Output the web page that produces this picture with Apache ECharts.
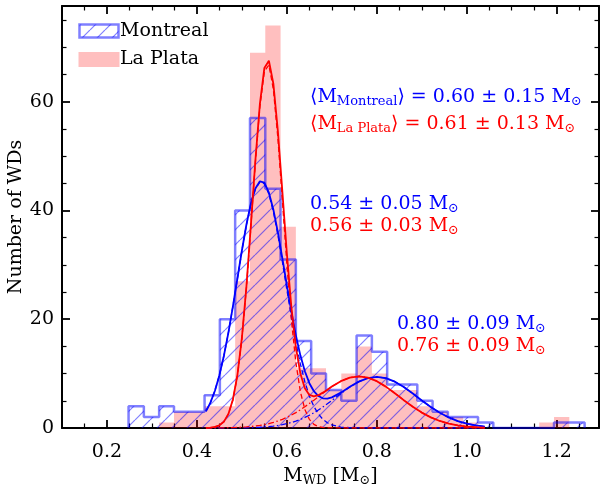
<!DOCTYPE html>
<html><head><meta charset="utf-8">
<script src="https://cdn.jsdelivr.net/npm/echarts@6/dist/echarts.min.js"></script>
<style>html,body{margin:0;padding:0;background:#fff}#c{width:601px;height:487px}</style>
</head><body><div id="c"></div>
<script>
// ---- data ----
const binEdges = [0.248,0.282,0.316,0.349,0.383,0.417,0.451,0.485,0.518,0.552,0.586,0.620,0.654,0.687,0.721,0.755,0.789,0.823,0.856,0.890,0.924,0.958,0.992,1.025,1.059,1.093,1.127,1.161,1.194,1.228,1.262];
const montrealCounts = [4,2,4,3,3,6,20,40,57,44,31,16,10,7,5,17,14,8,8,5,3,2,2,1,0,0,0,0,1,1];
const laPlataCounts  = [0,0,1,3,3,4,4,27,69,74,37,11,11,7,10,15,10,7,7,4,3,2,1,0,0,0,0,1,2,0];

const curveX = [0.42,0.43,0.44,0.45,0.46,0.47,0.48,0.49,0.50,0.51,0.52,0.53,0.54,0.55,0.56,0.57,0.58,0.59,0.60,0.61,0.62,0.63,0.64,0.65,0.66,0.67,0.68,0.69,0.70,0.72,0.74,0.76,0.78,0.80,0.82,0.84,0.86,0.88,0.90,0.92,0.94,0.96,0.98,1.00,1.02,1.04];
const montrealFit1 = [3.07,4.67,6.86,9.72,13.29,17.54,22.35,27.47,32.60,37.32,41.23,43.96,45.23,44.91,43.03,39.79,35.51,30.57,25.40,20.38,15.77,11.78,8.49,5.90,3.96,2.57,1.60,0.97,0.56,0.17,0.05,0.01,0,0,0,0,0,0,0,0,0,0,0,0,0,0];
const montrealFit2 = [0,0,0,0,0.01,0.01,0.02,0.02,0.04,0.05,0.07,0.10,0.14,0.20,0.27,0.36,0.47,0.62,0.80,1.01,1.27,1.58,1.94,2.34,2.80,3.31,3.86,4.45,5.07,6.33,7.53,8.52,9.17,9.40,9.17,8.52,7.53,6.33,5.07,3.86,2.80,1.94,1.27,0.80,0.47,0.27];
const montrealFitSum = [3.07,4.67,6.86,9.72,13.30,17.55,22.37,27.49,32.64,37.37,41.30,44.06,45.37,45.11,43.30,40.15,35.98,31.19,26.20,21.39,17.04,13.36,10.43,8.24,6.76,5.88,5.46,5.42,5.63,6.50,7.58,8.53,9.17,9.40,9.17,8.52,7.53,6.33,5.07,3.86,2.80,1.94,1.27,0.80,0.47,0.27];
const laPlataFit1 = [0.02,0.06,0.18,0.47,1.14,2.54,5.16,9.61,16.44,25.77,37.06,48.88,59.13,65.59,66.74,62.28,53.30,41.83,30.12,19.88,12.04,6.68,3.40,1.59,0.68,0.27,0.10,0.03,0.01,0,0,0,0,0,0,0,0,0,0,0,0,0,0,0,0,0];
const laPlataFit2 = [0.01,0.01,0.02,0.03,0.04,0.05,0.08,0.11,0.15,0.20,0.27,0.36,0.48,0.62,0.80,1.02,1.29,1.60,1.96,2.37,2.83,3.35,3.91,4.50,5.12,5.76,6.40,7.02,7.61,8.61,9.27,9.50,9.27,8.61,7.61,6.40,5.12,3.91,2.83,1.96,1.29,0.80,0.48,0.27,0.15,0.08];
const laPlataFitSum = [0.03,0.07,0.20,0.50,1.18,2.59,5.24,9.72,16.59,25.97,37.33,49.24,59.61,66.21,67.54,63.30,54.59,43.43,32.08,22.25,14.87,10.03,7.31,6.09,5.80,6.03,6.50,7.05,7.62,8.61,9.27,9.50,9.27,8.61,7.61,6.40,5.12,3.91,2.83,1.96,1.29,0.80,0.48,0.27,0.15,0.08];

const xMajorTicks = [0.2,0.4,0.6,0.8,1.0,1.2];
const xMinorTicks = [0.15,0.25,0.3,0.35,0.45,0.5,0.55,0.65,0.7,0.75,0.85,0.9,0.95,1.05,1.1,1.15,1.25];
const yMajorTicks = [0,20,40,60];
const yMinorTicks = [5,10,15,25,30,35,45,50,55,65,70,75];
const X_MIN = 0.1, X_MAX = 1.294, Y_MIN = 0, Y_MAX = 77.6;

// ---- rendering ----
const FONT = 'DejaVu Serif';
const FS = 19;
const BLUE = '#0000ff', RED = '#ff0000';

const hatch = document.createElement('canvas');
const HS = 15;
hatch.width = HS; hatch.height = HS;
(function(){
  const g = hatch.getContext('2d');
  g.strokeStyle = 'rgba(0,0,255,0.5)';
  g.lineWidth = 1.2;
  for (const k of [-1,0,1]) {
    g.beginPath(); g.moveTo(k*HS, HS); g.lineTo(k*HS + HS, 0); g.stroke();
  }
})();
const hatchPattern = {image: hatch, repeat: 'repeat'};

function stepData(counts) {
  const n = counts.length;
  const d = [[binEdges[0], 0]];
  for (let i = 0; i < n; i++) d.push([binEdges[i], counts[i]]);
  d.push([binEdges[n], counts[n-1]]);
  d.push([binEdges[n], 0]);
  return d;
}
function curve(arr) { return curveX.map((x, i) => [x, arr[i]]); }

function xAx(pos, ticks, len, labels, line, w) {
  return {
    type: 'value', position: pos, min: X_MIN, max: X_MAX,
    axisLine: {show: line, onZero: false, lineStyle: {color: '#000', width: 2}},
    axisTick: {show: true, inside: true, length: len, customValues: ticks, lineStyle: {color: '#000', width: w}},
    axisLabel: {show: labels, customValues: ticks, formatter: v => v.toFixed(1), margin: 15,
      color: '#000', fontFamily: FONT, fontSize: FS},
    splitLine: {show: false}
  };
}
function yAx(pos, ticks, len, labels, line, w) {
  return {
    type: 'value', position: pos, min: Y_MIN, max: Y_MAX,
    axisLine: {show: line, onZero: false, lineStyle: {color: '#000', width: 2}},
    axisTick: {show: true, inside: true, length: len, customValues: ticks, lineStyle: {color: '#000', width: w}},
    axisLabel: {show: labels, customValues: ticks, formatter: v => String(v), margin: 8,
      color: '#000', fontFamily: FONT, fontSize: FS},
    splitLine: {show: false}
  };
}

const xAxes = [
  xAx('bottom', xMajorTicks, 8, true, true, 1.8),
  xAx('bottom', xMinorTicks, 4.5, false, false, 1.2),
  xAx('top', xMajorTicks, 8, false, true, 1.8),
  xAx('top', xMinorTicks, 4.5, false, false, 1.2)
];
Object.assign(xAxes[0], {
  name: 'M{s|WD} [M{s|⊙}]', nameLocation: 'middle', nameGap: 32,
  nameTextStyle: {fontFamily: FONT, fontSize: FS, color: '#000',
    rich: {s: {fontFamily: FONT, fontSize: 13, color: '#000', padding: [9, 0, 0, 0]}}}
});
const yAxes = [
  yAx('left', yMajorTicks, 8, true, true, 1.8),
  yAx('left', yMinorTicks, 4.5, false, false, 1.2),
  yAx('right', yMajorTicks, 8, false, true, 1.8),
  yAx('right', yMinorTicks, 4.5, false, false, 1.2)
];
Object.assign(yAxes[0], {
  name: 'Number of WDs', nameLocation: 'middle', nameGap: 36, nameMoveOverlap: false,
  nameTextStyle: {fontFamily: FONT, fontSize: FS, color: '#000'}
});

function lineSeries(data, color, width, type, z) {
  return {type: 'line', data, xAxisIndex: 0, yAxisIndex: 0, symbol: 'none', smooth: false,
    z, silent: true, lineStyle: {color, width, type}};
}

function ann(x, y, color, text) {
  return {type: 'text', x, y, z: 100, style: {
    text, x: 0, y: 0, fill: color, fontFamily: FONT, fontSize: FS, verticalAlign: 'middle',
    rich: {s: {fill: color, fontFamily: FONT, fontSize: 13, padding: [9, 0, 0, 0]}}
  }};
}

const option = {
  animation: false,
  backgroundColor: '#fff',
  grid: {left: 62, right: 2, top: 6, bottom: 59, containLabel: false, outerBoundsMode: 'none'},
  xAxis: xAxes,
  yAxis: yAxes,
  series: [
    {type: 'line', step: 'end', data: stepData(laPlataCounts), symbol: 'none', z: 1, silent: true,
      lineStyle: {opacity: 0, width: 0}, areaStyle: {color: 'rgba(255,0,0,0.25)', opacity: 1}},
    {type: 'line', step: 'end', data: stepData(montrealCounts), symbol: 'none', z: 2, silent: true,
      lineStyle: {color: 'rgba(0,0,255,0.5)', width: 2.5}, areaStyle: {color: hatchPattern, opacity: 1}},
    lineSeries(curve(montrealFit1), BLUE, 1.3, [5, 3], 3),
    lineSeries(curve(montrealFit2), BLUE, 1.3, [6, 2.5, 1.5, 2.5], 3),
    lineSeries(curve(laPlataFit1), RED, 1.3, [5, 3], 3),
    lineSeries(curve(laPlataFit2), RED, 1.3, [6, 2.5, 1.5, 2.5], 3),
    lineSeries(curve(montrealFitSum), BLUE, 1.8, 'solid', 4),
    lineSeries(curve(laPlataFitSum), RED, 1.8, 'solid', 4)
  ],
  graphic: [
    {type: 'rect', z: 100, shape: {x: 79.5, y: 24.5, width: 39, height: 13}, style: {fill: hatchPattern, stroke: 'rgba(0,0,255,0.5)', lineWidth: 2.5}},
    {type: 'text', z: 100, x: 120, y: 31, style: {text: 'Montreal', fill: '#000', fontFamily: FONT, fontSize: FS, verticalAlign: 'middle'}},
    {type: 'rect', z: 100, shape: {x: 78.5, y: 52, width: 41, height: 15}, style: {fill: 'rgba(255,0,0,0.25)'}},
    {type: 'text', z: 100, x: 120, y: 59, style: {text: 'La Plata', fill: '#000', fontFamily: FONT, fontSize: FS, verticalAlign: 'middle'}},
    ann(310, 97, BLUE, '⟨M{s|Montreal}⟩ = 0.60 ± 0.15 M{s|⊙}'),
    ann(310, 124, RED, '⟨M{s|La Plata}⟩ = 0.61 ± 0.13 M{s|⊙}'),
    ann(310, 204, BLUE, '0.54 ± 0.05 M{s|⊙}'),
    ann(310, 226, RED, '0.56 ± 0.03 M{s|⊙}'),
    ann(397, 324, BLUE, '0.80 ± 0.09 M{s|⊙}'),
    ann(397, 346, RED, '0.76 ± 0.09 M{s|⊙}')
  ]
};
const chart = echarts.init(document.getElementById('c'), null, {renderer: 'canvas'});
chart.setOption(option);
</script>
</body></html>
